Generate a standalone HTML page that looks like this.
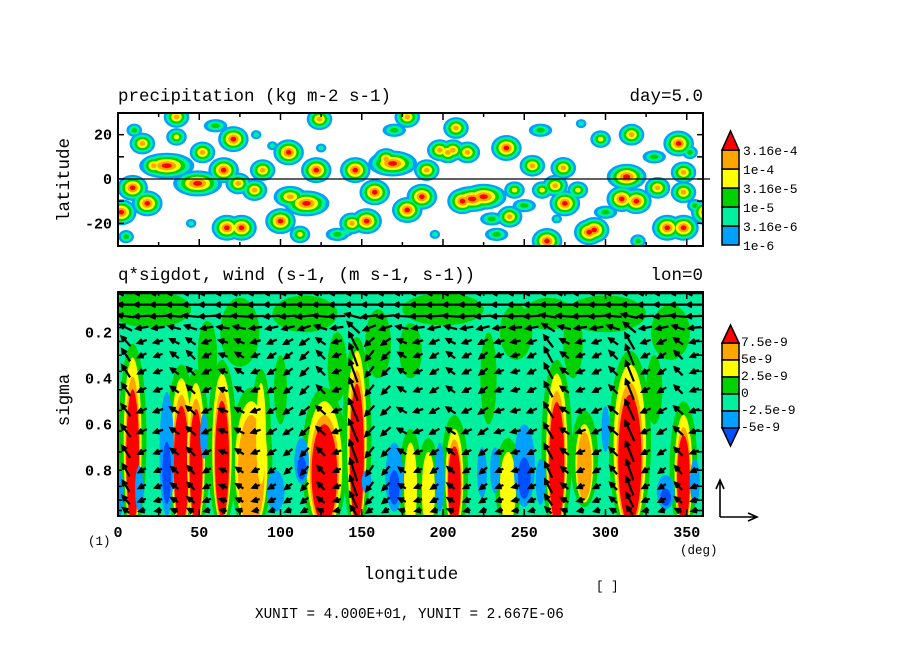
<!DOCTYPE html>
<html><head><meta charset="utf-8">
<style>
html,body{margin:0;padding:0;background:#fff;}
svg{display:block;}
text{font-family:"Liberation Mono","DejaVu Sans Mono",monospace;fill:#000;}
</style></head>
<body>
<svg id="chart" width="904" height="654" viewBox="0 0 904 654" xmlns="http://www.w3.org/2000/svg">
<defs>
<clipPath id="clipTop"><rect x="118" y="113" width="585" height="133"/></clipPath>
<clipPath id="clipBot"><rect x="118" y="292" width="585" height="224"/></clipPath>
</defs>
<rect x="0" y="0" width="904" height="654" fill="#fff"/>
<g id="topField" clip-path="url(#clipTop)"></g>
<rect x="118" y="292" width="585" height="224" fill="#00f0a0"/>
<g id="botField" clip-path="url(#clipBot)"></g>
<g id="arrows" clip-path="url(#clipBot)"></g>
<g id="axes"></g>

<text x="118" y="101" font-size="17.5">precipitation (kg m-2 s-1)</text>
<text x="703" y="101" font-size="17.5" text-anchor="end">day=5.0</text>
<text x="118" y="280" font-size="17.5">q*sigdot, wind (s-1, (m s-1, s-1))</text>
<text x="703" y="280" font-size="17.5" text-anchor="end">lon=0</text>
<text transform="translate(69,180) rotate(-90)" font-size="17.5" text-anchor="middle">latitude</text>
<text transform="translate(69,400) rotate(-90)" font-size="17.5" text-anchor="middle">sigma</text>
<text x="411" y="579" font-size="17.5" text-anchor="middle">longitude</text>
<text x="88" y="545" font-size="12.5">(1)</text>
<text x="680" y="554" font-size="12.5">(deg)</text>
<text x="596" y="590" font-size="12.5">[   ]</text>
<text x="255" y="618" font-size="14.3">XUNIT = 4.000E+01, YUNIT = 2.667E-06</text>
<g id="legends"></g>
</svg>
<script>
const NS='http://www.w3.org/2000/svg';
// ---------- data ----------
const precipLevels=['1e-6','3.16e-6','1e-5','3.16e-5','1e-4','3.16e-4'];
const precipColors=['#00a0ff','#00f0a0','#00d200','#ffff00','#ffa500','#ff0000'];
const blobLon=[30,22,49,9,18,2,71,65,67,76,100,105,106,116,122,124,146,158,169,153,144,187,178,218,212,198,206,178,190,165,36,52,15,84,89,74,36,112,208,239,215,203,255,274,269,313,345,316,348,332,310,319,348,225,241,275,290,338,348,264,293,297,244,261,283,260,233,60,135,95,170,230,300,330,355,10,85,140,250,285,320,45,195,270,352,5,125];
const blobLat=[6,6,-2,-4,-11,-15,18,4,-22,-22,-19,12,-8,-11,4,27,4,-6,7,-19,-20,-8,-14,-9,-10,13,13,28,4,9,19,12,16,-5,4,-2,28,-25,23,14,12,12,6,5,-3,1,16,20,3,-4,-9,-10,-6,-8,-17,-11,-24,-22,-22,-28,-23,18,-5,-5,-5,22,-25,24,-25,15,22,-18,-15,10,-12,22,20,-24,-12,25,-28,-20,-25,-18,12,-26,14];
const blobPeak=[5,4,5,5,5,5,5,5,5,5,5,5,4,5,5,4,5,5,5,5,4,5,5,5,5,4,4,4,4,4,3,4,4,4,4,4,4,3,4,5,4,4,4,4,4,5,5,4,4,4,5,5,4,5,4,5,5,5,5,5,5,3,3,3,3,2,2,2,2,1,2,2,2,2,2,2,1,1,2,1,2,1,1,1,2,2,1];
const blobStretch=[1.8,1,1.6,1,1,1,1,1,1,1,1,1,1.3,1.5,1,1,1,1,1.6,1,1,1,1,1.5,1,1,1,1,1,1,1,1,1,1,1,1,1,1,1,1,1,1,1,1,1,1.3,1,1,1,1,1,1,1,1.5,1,1,1,1,1,1,1,1,1,1,1,1.5,1.5,1.5,1.5,1,1.5,1.5,1.5,1.5,1,1,1,1.5,1.5,1,1,1,1,1,1,1,1];

const sigLevels=['7.5e-9','5e-9','2.5e-9','0','-2.5e-9','-5e-9'];
const featLon=[9,39,48,64,82,88,127,147,180,191,207,240,270,287,315,348,1,13,30,53,97,113,153,170,198,224,232,250,260,300,337,355];
const featTop=[0.31,0.40,0.42,0.38,0.50,0.42,0.50,0.28,0.68,0.72,0.62,0.72,0.38,0.60,0.34,0.56,0.80,0.78,0.46,0.55,0.80,0.66,0.80,0.68,0.68,0.70,0.70,0.60,0.75,0.52,0.82,0.75];
const featBot=[1.0,1.0,0.99,0.97,1.0,0.80,1.0,1.0,1.0,1.0,1.0,0.97,1.0,0.88,1.0,1.0,1.0,0.98,1.0,0.75,0.98,0.86,0.90,0.98,0.98,0.92,0.90,0.96,0.95,0.72,0.97,0.95];
const featHalf=[5.5,6.5,5.5,6,10,3,11,6,4,4,5.5,5,6.5,5.5,10,5.5,2.5,2.5,4.5,2.5,5.5,4.5,3,5.5,3,3,3,6.5,3,2.5,5.5,3];
const featLevel=[4,4,4,4,3,2,4,4,2,2,4,2,4,3,4,4,-1,-1,-2,-1,-1,-2,-1,-2,-1,-1,-1,-2,-1,-1,-2,-1];
const patchLon=[20,75,115,160,200,245,300,340,55,135,228,280,330,100,180,265];
const patchSig=[0.10,0.20,0.12,0.25,0.10,0.20,0.12,0.20,0.30,0.35,0.40,0.25,0.45,0.45,0.28,0.12];
const patchHalf=[25,12,20,8,25,10,25,12,6,6,5,6,5,4,7,15];
const patchHt=[0.08,0.15,0.08,0.15,0.07,0.12,0.08,0.12,0.15,0.15,0.20,0.15,0.15,0.15,0.12,0.07];

const windSigma=[0.03,0.08,0.13,0.18,0.24,0.30,0.37,0.45,0.54,0.63,0.72,0.80,0.87,0.93,0.975];
const windU=[-15,-16,-16,-12,-9,-8,-8,-8,-9,-9,-8,-7,-7,-7,-6];
const windProfile=[0,0,0.2,0.5,0.8,1,1,1,1,1,1,1,0.9,0.7,0.4];
const windLon=[5,15,25,35,45,55,65,75,85,95,105,115,125,135,145,155,165,175,185,195,205,215,225,235,245,255,265,275,285,295,305,315,325,335,345,355];
const windW=[12,-4,-3,6,8,-4,3,5,-3,-5,-6,-8,8,-3,22,-10,-8,5,-3,-5,6,-4,-6,-3,-2,-4,15,6,-3,-4,8,20,-4,-5,8,-3];

const lonTicks=[0,50,100,150,200,250,300,350];
const latTicks=[20,0,-20];
const sigmaTicks=[0.2,0.4,0.6,0.8];

const X=lon=>118+lon/360*585;
const Ylat=lat=>179-lat*133/60;
const Ys=s=>292+(s-0.025)*230;
function mk(tag,attrs,parent){const e=document.createElementNS(NS,tag);for(const k in attrs)e.setAttribute(k,attrs[k]);parent.appendChild(e);return e;}

// ---------- top field ----------
const topG=document.getElementById('topField');
for(let k=0;k<6;k++){
  for(let i=0;i<blobLon.length;i++){
    const P=blobPeak[i]; if(k>P) continue;
    const r=2.8+(P-k)*2.5;
    for(const off of [0,360,-360]){
      const e=mk('ellipse',{cx:X(blobLon[i]+off),cy:Ylat(blobLat[i]),rx:r*blobStretch[i],ry:r*0.85,fill:precipColors[k]},topG);
      
      
    }
  }
}

// ---------- bottom field ----------
const botG=document.getElementById('botField');
const sigColors={g:'#00d200',y:'#ffff00',o:'#ffa500',r:'#ff0000',lb:'#00a0ff',b:'#0050ff'};
for(let i=0;i<patchLon.length;i++){
  const e=mk('ellipse',{cx:X(patchLon[i]),cy:Ys(patchSig[i]),rx:patchHalf[i]*585/360,ry:patchHt[i]*230,fill:sigColors.g},botG);
  
  
}
function tall(lon,top,bot,half,color,name){
  const cy=(Ys(top)+Ys(bot))/2, ry=(Ys(bot)-Ys(top))/2;
  const e=mk('ellipse',{cx:X(lon),cy:cy,rx:Math.max(2,half*585/360),ry:ry,fill:color},botG);
  
  
}
for(let i=0;i<featLon.length;i++){
  if(featLevel[i]>0) tall(featLon[i],featTop[i]-0.06,featBot[i]+0.08,featHalf[i]+3,sigColors.g,'green-halo');
}
for(let i=0;i<featLon.length;i++){
  const L=featLevel[i],t=featTop[i],b=featBot[i],h=featHalf[i],span=b-t;
  if(L>0){
    tall(featLon[i],t,b+0.06,h,sigColors.y,'yellow-contour');
    if(L>=3) tall(featLon[i],t+0.12*span,b+0.05,h*0.82,sigColors.o,'orange-contour');
    if(L>=4) tall(featLon[i],t+0.2*span,b+0.03,h*0.72,sigColors.r,'red-contour');
  }else{
    tall(featLon[i],t,b,h,sigColors.lb,'lightblue-contour');
    if(L<=-2) tall(featLon[i],t+0.4*span,b-0.1*span,h*0.6,sigColors.b,'blue-contour');
  }
}

// ---------- arrows ----------
const arG=document.getElementById('arrows');
for(let j=0;j<windSigma.length;j++){
  for(let i=0;i<windLon.length;i++){
    const x0=X(windLon[i]),y0=Ys(windSigma[j]);
    const dx=windU[j],dy=-windW[i]*windProfile[j];
    const x1=x0-dx/2,y1=y0-dy/2,x2=x0+dx/2,y2=y0+dy/2;
    const len=Math.hypot(dx,dy)||1,ux=dx/len,uy=dy/len,hs=5;
    const d=`M${x1},${y1}L${x2},${y2}M${x2-hs*ux+hs*0.5*uy},${y2-hs*uy-hs*0.5*ux}L${x2},${y2}L${x2-hs*ux-hs*0.5*uy},${y2-hs*uy+hs*0.5*ux}`;
    const p=mk('path',{d:d,stroke:'#000','stroke-width':2.2,fill:'none'},arG);
    
    
  }
}

// ---------- axes ----------
const ax=document.getElementById('axes');
const bt=mk('rect',{x:118,y:113,width:585,height:133,fill:'none',stroke:'#000','stroke-width':2},ax);

const bb=mk('rect',{x:118,y:292,width:585,height:224,fill:'none',stroke:'#000','stroke-width':2},ax);

const eq=mk('line',{x1:118,y1:179,x2:710,y2:179,stroke:'#000','stroke-width':1.2},ax);

for(let lon=0;lon<=360;lon+=25){
  const big=lon%50===0,len=big?7:4;
  mk('line',{x1:X(lon),y1:246,x2:X(lon),y2:246-len,stroke:'#000','stroke-width':1.5},ax);
  mk('line',{x1:X(lon),y1:113,x2:X(lon),y2:113+len,stroke:'#000','stroke-width':1.5},ax);
  mk('line',{x1:X(lon),y1:516,x2:X(lon),y2:516-len,stroke:'#000','stroke-width':1.5},ax);
  mk('line',{x1:X(lon),y1:292,x2:X(lon),y2:292+len,stroke:'#000','stroke-width':1.5},ax);
}
for(let lat=-20;lat<=20;lat+=10){
  mk('line',{x1:118,y1:Ylat(lat),x2:124,y2:Ylat(lat),stroke:'#000','stroke-width':1.5},ax);
  mk('line',{x1:703,y1:Ylat(lat),x2:697,y2:Ylat(lat),stroke:'#000','stroke-width':1.5},ax);
}
for(const s of windSigma){
  mk('line',{x1:703,y1:Ys(s),x2:697,y2:Ys(s),stroke:'#000','stroke-width':1.5},ax);
  mk('line',{x1:118,y1:Ys(s),x2:122,y2:Ys(s),stroke:'#000','stroke-width':1.5},ax);
}
for(const v of lonTicks){
  const t=mk('text',{x:X(v),y:537,'font-size':15,'font-weight':'bold','text-anchor':'middle'},ax);t.textContent=v;
  
}
for(const v of latTicks){
  const t=mk('text',{x:112,y:Ylat(v)+5,'font-size':15,'font-weight':'bold','text-anchor':'end'},ax);t.textContent=v;
  
}
for(const v of sigmaTicks){
  const t=mk('text',{x:112,y:Ys(v)+5,'font-size':15,'font-weight':'bold','text-anchor':'end'},ax);t.textContent=v.toFixed(1);
  
}

// ---------- legends ----------
const lg=document.getElementById('legends');
function box(x,y,w,h,f,name){const r=mk('rect',{x:x,y:y,width:w,height:h,fill:f,stroke:'#000','stroke-width':1.5},lg);}
function tri(pts,f,name){const p=mk('polygon',{points:pts,fill:f,stroke:'#000','stroke-width':1.5},lg);}
const tb=[226,207,188,169,150];
for(let k=0;k<5;k++) box(722,tb[k],17,19,precipColors[k],'precip-colorbar-box');
tri('722,150 739,150 730.5,131',precipColors[5],'precip-colorbar-max');
for(let k=0;k<6;k++){
  const t=mk('text',{x:743,y:250-k*19,'font-size':13},lg);t.textContent=precipLevels[k];
  
}
const bc=['#ffa500','#ffff00','#00d200','#00f0a0','#00a0ff'];
for(let k=0;k<5;k++) box(722,343+k*17,17,17,bc[k],'sigdot-colorbar-box');
tri('722,343 739,343 730.5,325','#ff0000','sigdot-colorbar-max');
tri('722,428 739,428 730.5,446','#0050ff','sigdot-colorbar-min');
for(let k=0;k<6;k++){
  const t=mk('text',{x:741,y:346+k*17,'font-size':13},lg);t.textContent=sigLevels[k];
  
}
const rv=mk('path',{d:'M720,517L720,480M716,489L720,480L724,489M720,517L757,517M748,513L757,517L748,521',stroke:'#000','stroke-width':1.6,fill:'none'},lg);

</script>
</body></html>
